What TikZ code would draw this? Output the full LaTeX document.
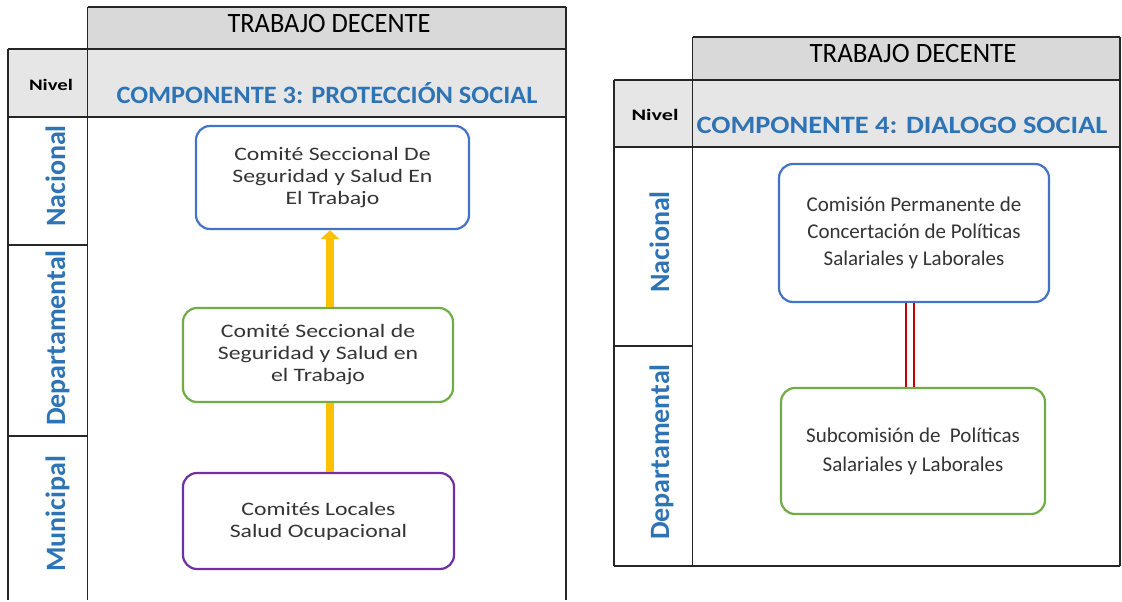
\documentclass[tikz,border=0pt]{standalone}
\usepackage{graphicx}
\usepackage{fontspec}
\setmainfont{Carlito}
\newfontfamily\wideC[FakeStretch=1.25]{Carlito}
\usetikzlibrary{arrows.meta}
\definecolor{hdrA}{RGB}{217,217,217}
\definecolor{hdrB}{RGB}{231,230,230}
\definecolor{lblue}{RGB}{46,116,181}
\definecolor{bxblue}{RGB}{68,114,196}
\definecolor{bxgreen}{RGB}{112,173,71}
\definecolor{bxpurple}{RGB}{112,48,160}
\definecolor{arrowy}{RGB}{255,192,0}
\definecolor{txtg}{RGB}{52,52,52}
\definecolor{lnred}{RGB}{204,0,0}
\definecolor{tline}{RGB}{38,38,38}
\newcommand\wfit[2]{\setbox0\hbox{#2}\pgfmathsetmacro\wfitsx{#1/\the\wd0}\scalebox{\wfitsx}[1]{\box0}}
\begin{document}
\begin{tikzpicture}[x=1pt,y=-1pt,
  tbl/.style={draw=tline, line width=1.4pt},
  hdr/.style={anchor=base, inner sep=0pt, font=\fontsize{28}{28}\selectfont, text=black},
  comp/.style={anchor=base, inner sep=0pt, font=\fontsize{25}{25}\selectfont\bfseries, text=lblue},
  niv/.style={anchor=base, inner sep=0pt, font=\fontsize{16}{16}\selectfont\bfseries, text=black},
  vlabel/.style={anchor=base, rotate=90, inner sep=0pt, font=\fontsize{28}{28}\selectfont\bfseries, text=lblue},
  box/.style={draw=#1, line width=2.2pt, rounded corners=14pt, fill=white, align=center, text=txtg, inner sep=0pt},
  ltxt/.style={font=\wideC\fontsize{19}{22}\selectfont},
  yarrow/.style={draw=arrowy, line width=7.5pt},
  dline/.style={draw=lnred, line width=2pt, double=white, double distance=6pt}]
\useasboundingbox (0,0) rectangle (1122,602);
\fill[white] (0,0) rectangle (1122,602);

% ---------- left table ----------
\fill[hdrA] (87.5,7) rectangle (566,49);
\fill[hdrB] (8,49) rectangle (566,117);
\draw[tbl] (87.5,7) -- (566,7);
\draw[tbl] (8,49) -- (566,49);
\draw[tbl] (8,117) -- (566,117);
\draw[tbl] (8,49) -- (8,600);
\draw[tbl] (87.5,7) -- (87.5,600);
\draw[tbl] (566,7) -- (566,600);
\draw[tbl] (8,245) -- (87.5,245);
\draw[tbl] (8,436) -- (87.5,436);

\node[hdr] (tdL) at (329,33) {\wfit{203}{TRABAJO DECENTE}};
\node[niv] (nvL) at (51,90) {\wfit{44}{Nivel}};
\node[comp] (cpL) at (327,103) {\wfit{421}{COMPONENTE 3: PROTECCIÓN SOCIAL}};
\node[vlabel] (naL) at (65,176) {Nacional};
\node[vlabel] (deL) at (65,338) {Departamental};
\node[vlabel] (muL) at (65,514) {Municipal};

\node[box=bxblue, ltxt, minimum width=273pt, minimum height=103pt] (bL) at (332.5,177.5)
  {Comité Seccional De\\Seguridad y Salud En\\El Trabajo};
\node[box=bxgreen, ltxt, minimum width=270pt, minimum height=94pt] (gL) at (318,355)
  {Comité Seccional de\\Seguridad y Salud en\\el Trabajo};
\node[box=bxpurple, ltxt, minimum width=271pt, minimum height=96pt] (pL) at (318.5,521)
  {Comités Locales\\Salud Ocupacional};

\draw[yarrow, -{Triangle[width=18pt,length=9pt]}] ([xshift=12pt]gL.north) -- ([xshift=-2.5pt]bL.south);
\draw[yarrow] ([xshift=12pt]gL.south) -- ([xshift=11.5pt]pL.north);

% ---------- right table ----------
\fill[hdrA] (692.5,37) rectangle (1120,80);
\fill[hdrB] (614,80) rectangle (1120,147);
\draw[tbl] (692.5,37) -- (1120,37);
\draw[tbl] (614,80) -- (1120,80);
\draw[tbl] (614,147) -- (1120,147);
\draw[tbl] (614,80) -- (614,566);
\draw[tbl] (692.5,37) -- (692.5,566);
\draw[tbl] (1120,37) -- (1120,566);
\draw[tbl] (614,346) -- (692.5,346);
\draw[tbl] (614,566) -- (1120,566);

\node[hdr] (tdR) at (913,63) {\wfit{207}{TRABAJO DECENTE}};
\node[niv] (nvR) at (655,120) {\wfit{47}{Nivel}};
\node[comp] (cpR) at (902,133) {\wfit{411}{COMPONENTE 4: DIALOGO SOCIAL}};
\node[vlabel] (naR) at (669,242) {Nacional};
\node[vlabel] (deR) at (669,452) {Departamental};

\node[box=bxblue, font=\fontsize{21}{27}\selectfont, minimum width=270pt, minimum height=138pt] (bR) at (914,233)
  {Comisión Permanente de\\Concertación de Políticas\\Salariales y Laborales};
\node[box=bxgreen, font=\fontsize{21}{29}\selectfont, minimum width=264pt, minimum height=126pt] (gR) at (913,451)
  {Subcomisión de~ Políticas\\Salariales y Laborales};

\draw[dline] ([xshift=-4.5pt]bR.south) -- ([xshift=-3.5pt]gR.north);
\end{tikzpicture}
\end{document}
